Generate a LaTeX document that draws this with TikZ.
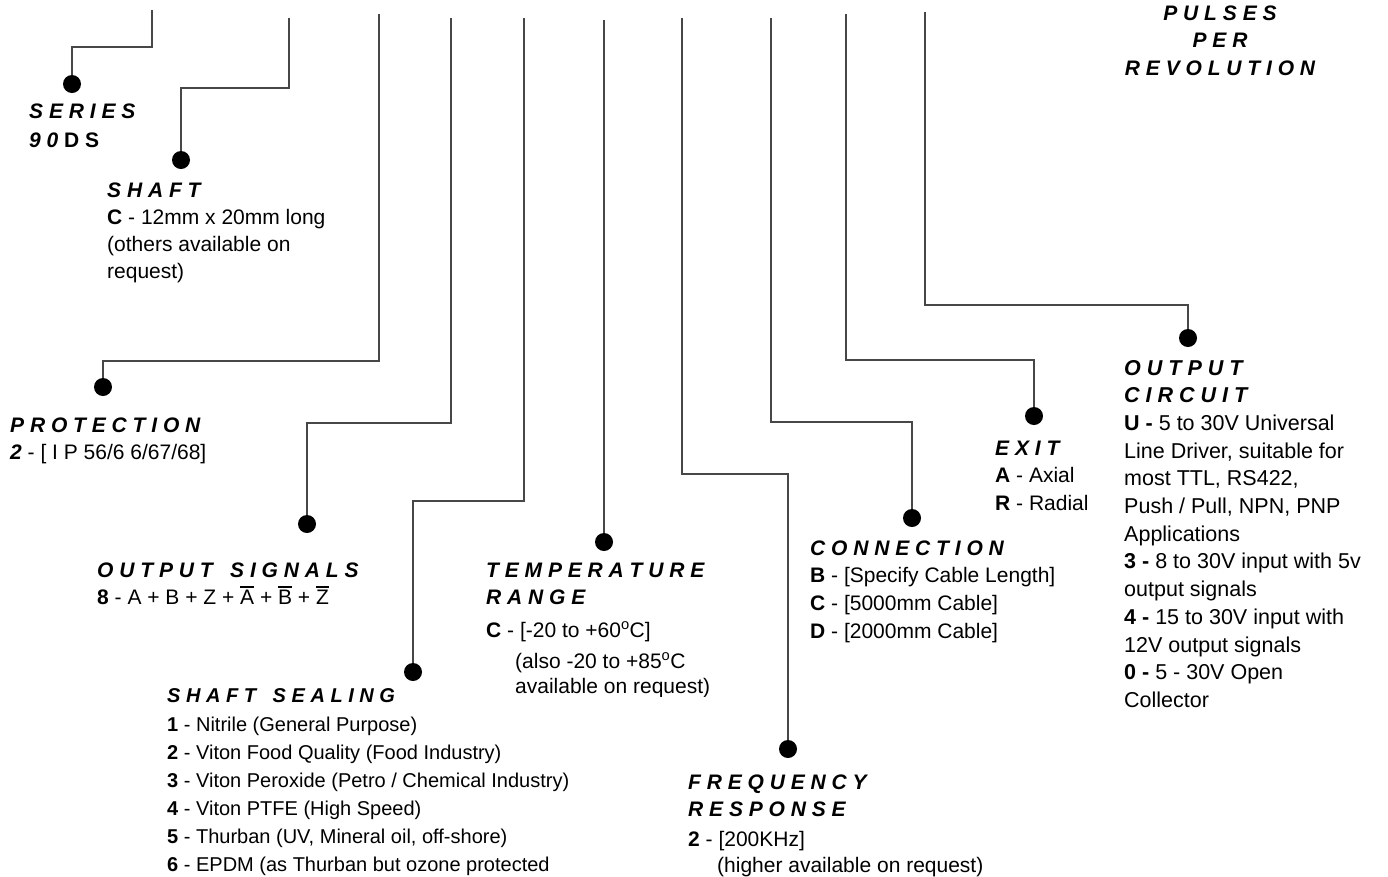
\documentclass[tikz,border=0pt]{standalone}
\usepackage{fontspec}
\setmainfont{Liberation Sans}
\newcommand\hdf{\bfseries\itshape}
\newcommand\ovl[1]{\leavevmode\setbox0\hbox{#1}\rlap{\rule[\dimexpr\ht0+2.2pt\relax]{\wd0}{2pt}}\box0\relax}
\newcommand\blk[1]{\begin{tabular}[t]{@{}l@{}}#1\end{tabular}}
\newcommand\cblk[1]{\begin{tabular}[t]{@{}c@{}}#1\end{tabular}}
\tikzset{
  wire/.style={draw=black!72, line width=1.1pt},
  pin/.style={circle, fill=black, minimum size=18pt, inner sep=0pt},
  lbl/.style={anchor=base west, inner sep=0pt, font=\fontsize{21}{27.7}\selectfont},
  lbls/.style={anchor=base west, inner sep=0pt, font=\fontsize{20}{28}\selectfont},
}
\begin{document}
\begin{tikzpicture}[x=1pt,y=-1pt]
\useasboundingbox (0,0) rectangle (1388,876);
% top ends
\coordinate (tA) at (152,10);
\coordinate (tB) at (289,18);
\coordinate (tC) at (379,14);
\coordinate (tD) at (451,18);
\coordinate (tE) at (524,18);
\coordinate (tF) at (604,20);
\coordinate (tG) at (682,18);
\coordinate (tH) at (771,18);
\coordinate (tI) at (846,14);
\coordinate (tJ) at (925,12);
% dots
\node[pin] (dA) at (72,84) {};
\node[pin] (dB) at (181,160) {};
\node[pin] (dC) at (103,387) {};
\node[pin] (dD) at (307,524) {};
\node[pin] (dE) at (413,672) {};
\node[pin] (dF) at (604,542) {};
\node[pin] (dG) at (788,749) {};
\node[pin] (dH) at (912,518) {};
\node[pin] (dI) at (1034,416) {};
\node[pin] (dJ) at (1188,338) {};
% wires
\draw[wire] (tA) -- (152,47) -| (dA);
\draw[wire] (tB) -- (289,88) -| (dB);
\draw[wire] (tC) -- (379,361) -| (dC);
\draw[wire] (tD) -- (451,423) -| (dD);
\draw[wire] (tE) -- (524,501) -| (dE);
\draw[wire] (tF) -- (dF);
\draw[wire] (tG) -- (682,474) -| (dG);
\draw[wire] (tH) -- (771,422) -| (dH);
\draw[wire] (tI) -- (846,360) -| (dI);
\draw[wire] (tJ) -- (925,305) -| (dJ);
% labels
\node[lbl] (lA) at (29,118) {\blk{{\hdf S E R I E S}\\[1.3pt]{\hdf 9 0} {\bfseries D S}}};
\node[lbl, font=\fontsize{21}{27}\selectfont] (lB) at (107,197) {\blk{{\hdf S H A F T}\\\textbf{C} - 12mm x 20mm long\\(others available on\\request)}};
\node[lbl, font=\fontsize{21}{27}\selectfont] (lC) at (10,432) {\blk{{\hdf P R O T E C T I O N}\\{\hdf 2} - [ I P 56/6 6/67/68]}};
\node[lbl] (lD) at (97,577) {\blk{{\hdf O U T P U T~~~S I G N A L S}\\\textbf{8} - A + B + Z + \ovl{A} + \ovl{B} + \ovl{Z}}};
\node[lbls] (lE) at (167,702) {\blk{{\hdf S H A F T~~~S E A L I N G}\\[1pt]
\textbf{1} - Nitrile (General Purpose)\\
\textbf{2} - Viton Food Quality (Food Industry)\\
\textbf{3} - Viton Peroxide (Petro / Chemical Industry)\\
\textbf{4} - Viton PTFE (High Speed)\\
\textbf{5} - Thurban (UV, Mineral oil, off-shore)\\
\textbf{6} - EPDM (as Thurban but ozone protected}};
\node[lbl] (lF) at (486,577) {\blk{{\hdf T E M P E R A T U R E}\\{\hdf R A N G E}\\[5pt]\textbf{C} - [-20 to +60\textsuperscript{o}C]}};
\begin{scope}
\clip (500,640) rectangle (760,696);
\node[lbl, font=\fontsize{21}{25}\selectfont] (lF2) at (515,668) {\blk{(also -20 to +85\textsuperscript{o}C\\available on request)}};
\end{scope}
\node[lbl] (lG) at (688,789) {\blk{{\hdf F R E Q U E N C Y}\\{\hdf R E S P O N S E}\\[2pt]\textbf{2} - [200KHz]}};
\node[lbl] (lG2) at (717,872) {(higher available on request)};
\node[lbl] (lH) at (810,555) {\blk{{\hdf C O N N E C T I O N}\\\textbf{B} - [Specify Cable Length]\\\textbf{C} - [5000mm Cable]\\\textbf{D} - [2000mm Cable]}};
\node[lbl] (lI) at (995,455) {\blk{{\hdf E X I T}\\\textbf{A} - Axial\\\textbf{R} - Radial}};
\node[lbl, font=\fontsize{21.5}{27.7}\selectfont] (lJ) at (1124,375) {\blk{{\hdf O U T P U T}\\{\hdf C I R C U I T}\\
\textbf{U -} 5 to 30V Universal\\
Line Driver, suitable for\\
most TTL, RS422,\\
Push / Pull, NPN, PNP\\
Applications\\
\textbf{3 -} 8 to 30V input with 5v\\
output signals\\
\textbf{4 -} 15 to 30V input with\\
12V output signals\\
\textbf{0 -} 5 - 30V Open\\
Collector}};
\node[anchor=base, inner sep=0pt, font=\fontsize{21}{27.5}\selectfont\bfseries\itshape] (lK) at (1220,20) {\cblk{P U L S E S\\P E R\\R E V O L U T I O N}};
\end{tikzpicture}
\end{document}
